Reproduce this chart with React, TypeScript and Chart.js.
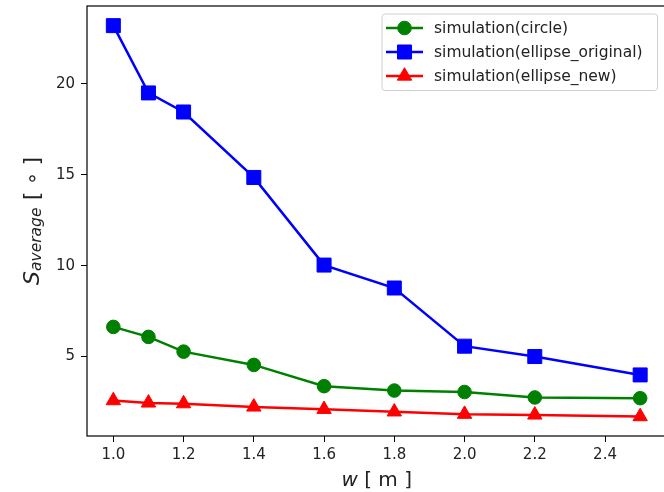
import React, { useEffect, useRef } from 'react';
import { Chart, registerables } from 'chart.js';

Chart.register(...registerables);

// ---- data ----
const wValues = [1.0, 1.1, 1.2, 1.4, 1.6, 1.8, 2.0, 2.2, 2.5];
const circleSeries = [6.63, 6.08, 5.27, 4.54, 3.37, 3.13, 3.05, 2.75, 2.71];
const ellipseOriginalSeries = [23.2, 19.5, 18.45, 14.85, 10.03, 8.77, 5.57, 5.0, 3.99];
const ellipseNewSeries = [2.58, 2.45, 2.41, 2.23, 2.1, 1.96, 1.83, 1.79, 1.7];
const seriesLabels = ['simulation(circle)', 'simulation(ellipse_original)', 'simulation(ellipse_new)'];
const xTickValues = [1.0, 1.2, 1.4, 1.6, 1.8, 2.0, 2.2, 2.4];
const yTickValues = [5, 10, 15, 20];

const FONT = '"DejaVu Sans", sans-serif';
const TEXT = '#222222';

function drawMarker(ctx: CanvasRenderingContext2D, style: string, x: number, y: number, r: number, color: string) {
  ctx.save();
  ctx.fillStyle = color;
  ctx.strokeStyle = color;
  ctx.lineWidth = 1;
  ctx.beginPath();
  if (style === 'circle') {
    ctx.arc(x, y, r, 0, Math.PI * 2);
  } else if (style === 'rect') {
    const s = Math.SQRT1_2 * r;
    ctx.rect(x - s, y - s, 2 * s, 2 * s);
  } else if (style === 'triangle') {
    let rad = 0;
    ctx.moveTo(x + Math.sin(rad) * r, y - Math.cos(rad) * r);
    rad += (2 * Math.PI) / 3;
    ctx.lineTo(x + Math.sin(rad) * r, y - Math.cos(rad) * r);
    rad += (2 * Math.PI) / 3;
    ctx.lineTo(x + Math.sin(rad) * r, y - Math.cos(rad) * r);
    ctx.closePath();
  }
  ctx.fill();
  ctx.stroke();
  ctx.restore();
}

const decorPlugin = {
  id: 'decor',
  afterDatasetsDraw(chart: any) {
    const { ctx, chartArea: a } = chart;
    ctx.save();
    // frame
    ctx.strokeStyle = '#000';
    ctx.lineWidth = 1.2;
    ctx.strokeRect(a.left, a.top, a.right - a.left, a.bottom - a.top);

    // x title: w [ m ]
    const xc = (a.left + a.right) / 2;
    const xBase = 486;
    ctx.fillStyle = TEXT;
    ctx.textBaseline = 'alphabetic';
    ctx.textAlign = 'left';
    const fItal = `italic 20px ${FONT}`;
    const fNorm = `20px ${FONT}`;
    ctx.font = fItal;
    const w1 = ctx.measureText('w').width;
    ctx.font = fNorm;
    const w2 = ctx.measureText(' [ m ]').width;
    const x0 = xc - (w1 + w2) / 2;
    ctx.font = fItal;
    ctx.fillText('w', x0, xBase);
    ctx.font = fNorm;
    ctx.fillText(' [ m ]', x0 + w1, xBase);

    // y title: S_average [ ∘ ]
    const yc = (a.top + a.bottom) / 2;
    ctx.save();
    ctx.translate(0, yc);
    ctx.rotate(-Math.PI / 2);
    const fS = `italic 22px ${FONT}`;
    const fSub = `italic 15.5px ${FONT}`;
    const fRest = `21px ${FONT}`;
    ctx.font = fS;
    const sW = ctx.measureText('S').width;
    ctx.font = fSub;
    const subW = ctx.measureText('average').width;
    ctx.font = fRest;
    const restW = ctx.measureText(' [ ∘ ]').width;
    const total = sW + subW + 1 + restW;
    let u = -total / 2;
    ctx.font = fS;
    ctx.fillText('S', u, 38.5);
    u += sW;
    ctx.font = fSub;
    ctx.fillText('average', u, 41);
    u += subW + 1;
    ctx.font = fRest;
    ctx.fillText(' [ ∘ ]', u, 38.5);
    ctx.restore();
    ctx.restore();
  },
  afterDraw(chart: any) {
    const { ctx } = chart;
    ctx.save();
    const bx = 382, by = 14, bw = 275.5, bh = 76.5, br = 3;
    ctx.beginPath();
    ctx.moveTo(bx + br, by);
    ctx.lineTo(bx + bw - br, by);
    ctx.quadraticCurveTo(bx + bw, by, bx + bw, by + br);
    ctx.lineTo(bx + bw, by + bh - br);
    ctx.quadraticCurveTo(bx + bw, by + bh, bx + bw - br, by + bh);
    ctx.lineTo(bx + br, by + bh);
    ctx.quadraticCurveTo(bx, by + bh, bx, by + bh - br);
    ctx.lineTo(bx, by + br);
    ctx.quadraticCurveTo(bx, by, bx + br, by);
    ctx.closePath();
    ctx.fillStyle = 'rgba(255,255,255,0.8)';
    ctx.fill();
    ctx.strokeStyle = '#d0d0d0';
    ctx.lineWidth = 1;
    ctx.stroke();

    const rows = [28, 52, 76];
    chart.data.datasets.forEach((ds: any, i: number) => {
      const y = rows[i];
      ctx.strokeStyle = ds.borderColor;
      ctx.lineWidth = ds.borderWidth;
      ctx.beginPath();
      ctx.moveTo(386, y);
      ctx.lineTo(423, y);
      ctx.stroke();
      drawMarker(ctx, ds.pointStyle, 404.5, y, ds.pointRadius, ds.backgroundColor);
      ctx.fillStyle = TEXT;
      ctx.font = `15.5px ${FONT}`;
      ctx.textAlign = 'left';
      ctx.textBaseline = 'middle';
      ctx.fillText(ds.label, 434, y + 1);
    });
    ctx.restore();
  },
};

export default function App() {
  const ref = useRef<HTMLCanvasElement | null>(null);

  useEffect(() => {
    if (!ref.current) return;
    const toPoints = (ys: number[]) => wValues.map((x, i) => ({ x, y: ys[i] }));
    const chart = new Chart(ref.current, {
      type: 'line',
      data: {
        datasets: [
          {
            label: seriesLabels[0],
            data: toPoints(circleSeries),
            borderColor: '#008000',
            backgroundColor: '#008000',
            borderWidth: 2.5,
            pointStyle: 'circle',
            pointRadius: 6.8,
            pointBorderWidth: 1,
            order: 3,
          },
          {
            label: seriesLabels[1],
            data: toPoints(ellipseOriginalSeries),
            borderColor: '#0000ff',
            backgroundColor: '#0000ff',
            borderWidth: 2.5,
            pointStyle: 'rect',
            pointRadius: 9.9,
            pointBorderWidth: 1,
            order: 2,
          },
          {
            label: seriesLabels[2],
            data: toPoints(ellipseNewSeries),
            borderColor: '#ff0000',
            backgroundColor: '#ff0000',
            borderWidth: 2.5,
            pointStyle: 'triangle',
            pointRadius: 8.3,
            pointBorderWidth: 1,
            order: 1,
          },
        ],
      },
      options: {
        responsive: false,
        animation: false,
        events: [],
        layout: { autoPadding: false, padding: { top: 6, right: 13.5, left: 0, bottom: 0 } },
        plugins: {
          legend: { display: false },
          tooltip: { enabled: false },
        },
        scales: {
          x: {
            type: 'linear',
            min: 0.925,
            max: 2.575,
            afterFit: (s: any) => { s.height = 56; s.paddingLeft = 0; s.paddingRight = 0; },
            afterBuildTicks: (s: any) => { s.ticks = xTickValues.map((v) => ({ value: v })); },
            border: { display: false },
            grid: { display: true, drawOnChartArea: false, drawTicks: true, tickLength: 6, color: '#000', lineWidth: 1 },
            ticks: {
              padding: 4,
              color: TEXT,
              font: { family: FONT, size: 15 },
              maxRotation: 0,
              autoSkip: false,
              callback: (v: any) => Number(v).toFixed(1),
            },
          },
          y: {
            type: 'linear',
            min: 0.63,
            max: 24.28,
            afterFit: (s: any) => { s.width = 87; s.paddingTop = 0; s.paddingBottom = 0; },
            afterBuildTicks: (s: any) => { s.ticks = yTickValues.map((v) => ({ value: v })); },
            border: { display: false },
            grid: { display: true, drawOnChartArea: false, drawTicks: true, tickLength: 6, color: '#000', lineWidth: 1 },
            ticks: {
              padding: 6,
              color: TEXT,
              font: { family: FONT, size: 15 },
              autoSkip: false,
              callback: (v: any) => String(v),
            },
          },
        },
      },
      plugins: [decorPlugin],
    });
    return () => chart.destroy();
  }, []);

  return (
    <div style={{ position: 'fixed', left: 0, top: 0, width: 664, height: 492, overflow: 'hidden', background: '#fff' }}>
      <canvas ref={ref} width={680} height={492} style={{ width: 680, height: 492, display: 'block' }} />
    </div>
  );
}
